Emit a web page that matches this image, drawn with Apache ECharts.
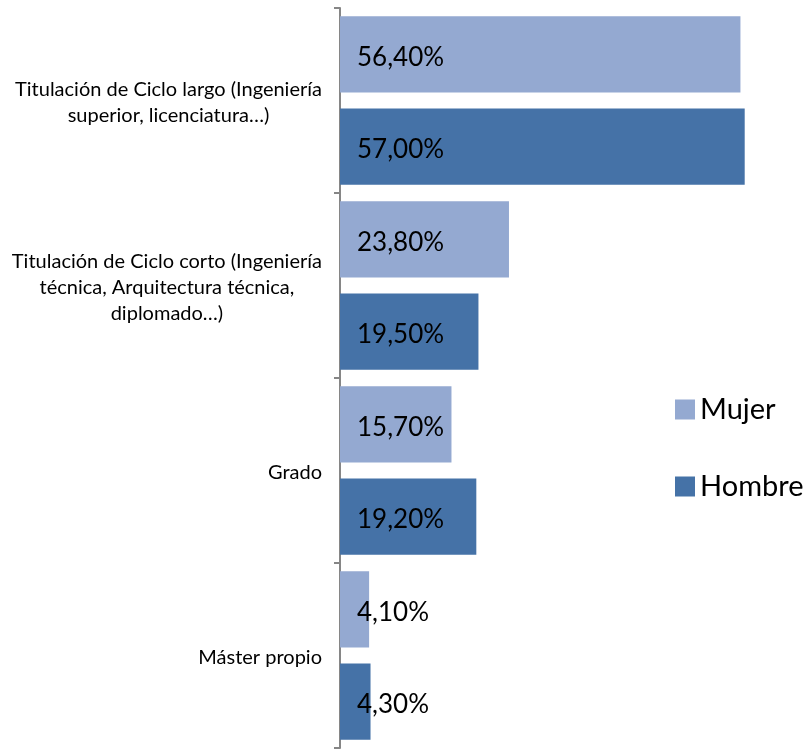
<!DOCTYPE html>
<html>
<head>
<meta charset="utf-8">
<script src="https://cdn.jsdelivr.net/npm/echarts@6/dist/echarts.min.js"></script>
<style>html,body{margin:0;padding:0;background:#fff}#c{width:806px;height:749px}</style>
</head>
<body>
<div id="c"></div>
<script>
const categories = [
  'Titulación de Ciclo largo (Ingeniería\nsuperior, licenciatura…)',
  'Titulación de Ciclo corto (Ingeniería\ntécnica, Arquitectura técnica,\ndiplomado…)',
  'Grado',
  'Máster propio'
];
const seriesNames = ['Mujer', 'Hombre'];
const mujer = [56.4, 23.8, 15.7, 4.1];
const hombre = [57.0, 19.5, 19.2, 4.3];

const FONT = 'Lato';
const fmt = p => p.value.toFixed(2).replace('.', ',') + '%';
const labelCfg = {
  show: true, position: 'insideLeft', distance: 17, offset: [0, 3],
  formatter: fmt, color: '#000', fontFamily: FONT, fontSize: 26
};

const chart = echarts.init(document.getElementById('c'), null, {renderer: 'canvas'});
chart.setOption({
  animation: false,
  backgroundColor: '#fff',
  grid: {left: 340, right: 40, top: 8, bottom: 1, containLabel: false},
  legend: {
    orient: 'vertical', left: 670, top: 390,
    itemWidth: 20, itemHeight: 20, itemGap: 48,
    icon: 'rect',
    textStyle: {fontFamily: FONT, fontSize: 29, color: '#000'},
    data: seriesNames
  },
  xAxis: {type: 'value', min: 0, max: 60, show: false},
  yAxis: {
    type: 'category', inverse: true, data: categories,
    axisLine: {show: true, lineStyle: {color: '#868686', width: 2}},
    axisTick: {show: true, length: 6, lineStyle: {color: '#868686', width: 2}},
    axisLabel: {
      margin: 18, color: '#000', fontFamily: FONT, fontSize: 20,
      padding: [5, 0, 0, 0],
      formatter: v => v.split('\n').map(l => '{c|' + l + '}').join('\n'),
      rich: {c: {align: 'center', fontFamily: FONT, fontSize: 20, lineHeight: 26, color: '#000'}}
    },
    splitLine: {show: false}
  },
  series: [
    {name: seriesNames[0], type: 'bar', data: mujer, itemStyle: {color: '#94A9D1'},
     barGap: '21%', barCategoryGap: '9%', label: labelCfg},
    {name: seriesNames[1], type: 'bar', data: hombre, itemStyle: {color: '#4572A7'},
     barGap: '21%', barCategoryGap: '9%', label: labelCfg}
  ]
});
</script>
</body>
</html>
